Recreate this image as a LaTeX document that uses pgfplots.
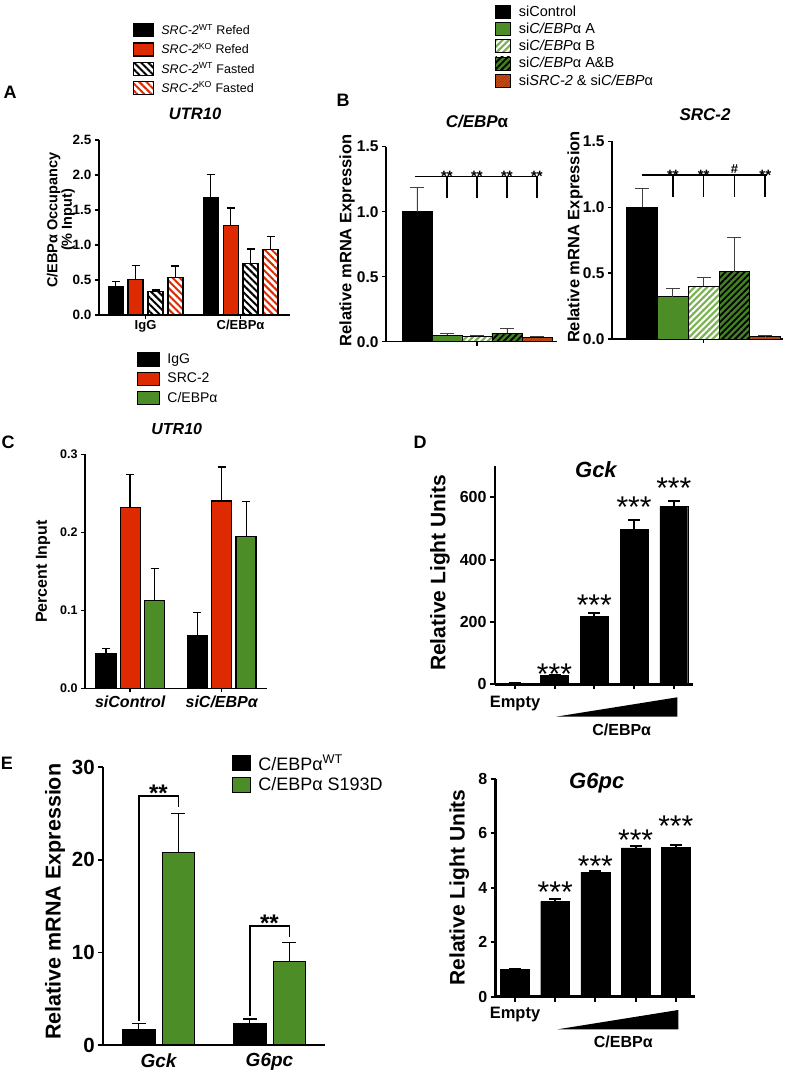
\documentclass[border=0pt]{standalone}
\usepackage{fontspec}
\setmainfont{Liberation Sans}
\usepackage{pgfplots}
\pgfplotsset{compat=1.18}
\usetikzlibrary{patterns.meta}
\definecolor{pred}{RGB}{221,42,0}
\definecolor{pgreen}{RGB}{77,141,40}
\definecolor{plight}{RGB}{125,178,85}
\definecolor{pdark}{RGB}{68,128,38}
\definecolor{porange}{RGB}{205,78,22}
\definecolor{porangedk}{RGB}{150,50,12}
\newcommand{\fs}[1]{\fontsize{#1}{#1}\selectfont}
\pgfplotsset{
  prism/.style={scale only axis, anchor=south west, axis lines*=left,
    axis line style={-, line width=1.5pt}, tick align=outside,
    major tick length=4pt, tick style={line width=1.5pt, black},
    /pgf/number format/assume math mode=true, clip=false, ymin=0,
    legend cell align=left, scaled y ticks=false,
    title style={anchor=center, yshift=0pt},
    ylabel style={anchor=center},
  },
  fixed1/.style={yticklabel style={/pgf/number format/.cd, fixed, fixed zerofill, precision=1}},
  boxleg/.style 2 args={legend image code/.code={\draw[##1] (0pt,-#2) rectangle (#1,#2);}},
  errb/.style n args={3}{error bars/.cd, y dir=plus, y explicit,
     error bar style={line width=#1, #3}, error mark options={rotate=90, line width=#1, #3, mark size=#2}},
}
\begin{document}
\begin{tikzpicture}
\path[use as bounding box] (0,0) rectangle (787pt,1074pt);

% ---------------- Panel A ----------------
\begin{axis}[prism, at={(99pt,759pt)}, width=191pt, height=175pt,
  xmin=-0.49, xmax=1.52, ymax=2.5, ytick={0,0.5,1,1.5,2,2.5}, fixed1,
  xtick={0,1}, xticklabels={IgG,C/EBPα},
  tick label style={font=\bfseries\fs{13.5}},
  xticklabel style={font=\bfseries\fs{13}, yshift=2.5pt},
  title={UTR10}, title style={at={(axis description cs:0.503,1.114)}, font=\bfseries\itshape\fs{16.5}},
  ylabel={C/EBPα Occupancy\\(\% Input)}, ylabel style={at={(axis description cs:-0.199,0.543)}, align=center, font=\bfseries\fs{14.5}},
  legend style={at={(0.178,1.669)}, anchor=north west, draw=none, fill=none, font=\fs{12.5}, row sep=5pt, inner sep=0pt, nodes={inner sep=1pt}, /tikz/every odd column/.append style={column sep=6pt}},
]
\addplot[ybar, bar width=0.158, bar shift=0, fill=black, draw=black, line width=1.2pt, boxleg={20pt}{6.5pt}, errb={1.5pt}{4pt}{black}]
  coordinates {(-0.315,0.40) +- (0,0.08) (0.685,1.68) +- (0,0.33)};
\addlegendentry{\textit{SRC-2}\textsuperscript{WT} Refed}
\addplot[ybar, bar width=0.158, bar shift=0, fill=pred, draw=black, line width=1.2pt, boxleg={20pt}{6.5pt}, errb={1.5pt}{4pt}{black}]
  coordinates {(-0.105,0.51) +- (0,0.20) (0.895,1.28) +- (0,0.25)};
\addlegendentry{\textit{SRC-2}\textsuperscript{KO} Refed}
\addplot[ybar, bar width=0.158, bar shift=0, fill=white, draw=black, line width=1.2pt, postaction={pattern={Lines[angle=-45,distance=5pt,line width=2pt]}, pattern color=black}, boxleg={20pt}{6.5pt}, errb={1.5pt}{4pt}{black}]
  coordinates {(0.105,0.33) +- (0,0.03) (1.105,0.74) +- (0,0.20)};
\addlegendentry{\textit{SRC-2}\textsuperscript{WT} Fasted}
\addplot[ybar, bar width=0.158, bar shift=0, fill=white, draw=black, line width=1.2pt, postaction={pattern={Lines[angle=-45,distance=5pt,line width=2pt]}, pattern color=pred}, boxleg={20pt}{6.5pt}, errb={1.5pt}{4pt}{black}]
  coordinates {(0.315,0.53) +- (0,0.17) (1.315,0.93) +- (0,0.19)};
\addlegendentry{\textit{SRC-2}\textsuperscript{KO} Fasted}
\end{axis}

% ---------------- Panel B left ----------------
\begin{axis}[prism, at={(386pt,732.3pt)}, width=171pt, height=195pt,
  xmin=-1.033, xmax=4.667, ymax=1.5, ytick={0,0.5,1,1.5}, fixed1,
  xtick={2}, xticklabels={},
  tick label style={font=\bfseries\fs{15.5}},
  title={C/EBP\textup{α}}, title style={at={(axis description cs:0.532,1.096)}, font=\bfseries\itshape\fs{17}},
  ylabel={Relative mRNA Expression}, ylabel style={at={(axis description cs:-0.228,0.519)}, font=\bfseries\fs{16.5}},
  legend style={at={(0.637,1.727)}, anchor=north west, draw=none, fill=none, font=\fs{14.5}, row sep=3.1pt, inner sep=0pt, nodes={inner sep=1pt}, /tikz/every odd column/.append style={column sep=7pt}},
]
\addplot[ybar, bar width=1, bar shift=0, fill=black, draw=black, line width=0.8pt, boxleg={15pt}{6.5pt}, errb={0.8pt}{7pt}{black!75}]
  coordinates {(0,1.0) +- (0,0.19)};
\addlegendentry{siControl}
\addplot[ybar, bar width=1, bar shift=0, fill=pgreen, draw=black, line width=0.8pt, boxleg={15pt}{6.5pt}, errb={0.8pt}{7pt}{black!75}]
  coordinates {(1,0.05) +- (0,0.015)};
\addlegendentry{si\textit{C/EBP}α A}
\addplot[ybar, bar width=1, bar shift=0, fill=plight, draw=black, line width=0.8pt, postaction={pattern={Lines[angle=45,distance=4.5pt,line width=2pt]}, pattern color=white}, boxleg={15pt}{6.5pt}, errb={0.8pt}{7pt}{black!75}]
  coordinates {(2,0.04) +- (0,0.005)};
\addlegendentry{si\textit{C/EBP}α B}
\addplot[ybar, bar width=1, bar shift=0, fill=pdark, draw=black, line width=0.8pt, postaction={pattern={Lines[angle=45,distance=4.5pt,line width=1.8pt]}, pattern color=black}, boxleg={15pt}{6.5pt}, errb={0.8pt}{7pt}{black!75}]
  coordinates {(3,0.065) +- (0,0.035)};
\addlegendentry{si\textit{C/EBP}α A\&B}
\addplot[ybar, bar width=1, bar shift=0, fill=porange, draw=black, line width=0.8pt, postaction={pattern={Lines[angle=45,distance=2pt,line width=0.6pt]}, pattern color=porangedk}, boxleg={15pt}{6.5pt}, errb={0.8pt}{7pt}{black!75}]
  coordinates {(4,0.035) +- (0,0.005)};
\addlegendentry{si\textit{SRC-2} \& si\textit{C/EBP}α}
\draw[line width=1.6pt] (axis cs:-0.07,1.27) -- (axis cs:4.03,1.27);
\draw[line width=1.6pt] (axis cs:1,1.27) -- (axis cs:1,1.105);
\draw[line width=1.6pt] (axis cs:2,1.27) -- (axis cs:2,1.105);
\draw[line width=1.6pt] (axis cs:3,1.27) -- (axis cs:3,1.105);
\draw[line width=1.6pt] (axis cs:4,1.27) -- (axis cs:4,1.105);
\node[anchor=base, inner sep=0pt, font=\bfseries\fs{15}] at (axis cs:1,1.232) {**};
\node[anchor=base, inner sep=0pt, font=\bfseries\fs{15}] at (axis cs:2,1.232) {**};
\node[anchor=base, inner sep=0pt, font=\bfseries\fs{15}] at (axis cs:3,1.232) {**};
\node[anchor=base, inner sep=0pt, font=\bfseries\fs{15}] at (axis cs:4,1.232) {**};
\end{axis}

% ---------------- Panel B right ----------------
\begin{axis}[prism, at={(612pt,735pt)}, width=171pt, height=197.5pt,
  xmin=-0.977, xmax=4.575, ymax=1.5, ytick={0,0.5,1,1.5}, fixed1,
  xtick={2}, xticklabels={},
  tick label style={font=\bfseries\fs{15.5}},
  title={SRC-2}, title style={at={(axis description cs:0.544,1.104)}, font=\bfseries\itshape\fs{17}},
  ylabel={Relative mRNA Expression}, ylabel style={at={(axis description cs:-0.216,0.516)}, font=\bfseries\fs{16.5}},
]
\addplot[ybar, bar width=1, bar shift=0, fill=black, draw=black, line width=0.8pt, errb={0.8pt}{7pt}{black!75}]
  coordinates {(0,1.0) +- (0,0.144)};
\addplot[ybar, bar width=1, bar shift=0, fill=pgreen, draw=black, line width=0.8pt, errb={0.8pt}{7pt}{black!75}]
  coordinates {(1,0.32) +- (0,0.065)};
\addplot[ybar, bar width=1, bar shift=0, fill=plight, draw=black, line width=0.8pt, postaction={pattern={Lines[angle=45,distance=4.5pt,line width=2pt]}, pattern color=white}, errb={0.8pt}{7pt}{black!75}]
  coordinates {(2,0.40) +- (0,0.07)};
\addplot[ybar, bar width=1, bar shift=0, fill=pdark, draw=black, line width=0.8pt, postaction={pattern={Lines[angle=45,distance=4.5pt,line width=1.8pt]}, pattern color=black}, errb={0.8pt}{7pt}{black!75}]
  coordinates {(3,0.51) +- (0,0.26)};
\addplot[ybar, bar width=1, bar shift=0, fill=porange, draw=black, line width=0.8pt, postaction={pattern={Lines[angle=45,distance=2pt,line width=0.6pt]}, pattern color=porangedk}, errb={0.8pt}{7pt}{black!75}]
  coordinates {(4,0.02) +- (0,0.005)};
\draw[line width=1.6pt] (axis cs:0,1.245) -- (axis cs:4.045,1.245);
\draw[line width=1.6pt] (axis cs:1,1.245) -- (axis cs:1,1.08);
\draw[line width=1.6pt] (axis cs:2,1.245) -- (axis cs:2,1.08);
\draw[line width=1.6pt] (axis cs:3,1.245) -- (axis cs:3,1.08);
\draw[line width=1.6pt] (axis cs:4,1.245) -- (axis cs:4,1.08);
\node[anchor=base, inner sep=0pt, font=\bfseries\fs{15}] at (axis cs:1,1.203) {**};
\node[anchor=base, inner sep=0pt, font=\bfseries\fs{15}] at (axis cs:2,1.203) {**};
\node[anchor=base, inner sep=0pt, font=\bfseries\fs{13}] at (axis cs:3,1.258) {\#};
\node[anchor=base, inner sep=0pt, font=\bfseries\fs{15}] at (axis cs:4,1.203) {**};
\end{axis}

% ---------------- Panel C ----------------
\begin{axis}[prism, at={(85pt,385.7pt)}, width=181.7pt, height=234pt,
  xmin=-0.494, xmax=1.492, ymax=0.3, ytick={0,0.1,0.2,0.3}, fixed1,
  xtick={0,1}, xticklabels={siControl,siC/EBPα},
  tick label style={font=\bfseries\fs{12.5}},
  xticklabel style={font=\bfseries\itshape\fs{16}},
  title={UTR10}, title style={at={(axis description cs:0.505,1.082)}, font=\bfseries\itshape\fs{16}},
  ylabel={Percent Input}, ylabel style={at={(axis description cs:-0.231,0.498)}, font=\bfseries\fs{16}},
  legend style={at={(0.286,1.437)}, anchor=north west, draw=none, fill=none, font=\fs{14}, row sep=5pt, inner sep=0pt, nodes={inner sep=1pt}, /tikz/every odd column/.append style={column sep=6pt}},
]
\addplot[ybar, bar width=0.219, bar shift=0, fill=black, draw=black, line width=1.3pt, boxleg={22pt}{6.5pt}, errb={1.5pt}{4pt}{black}]
  coordinates {(-0.266,0.044) +- (0,0.007) (0.734,0.068) +- (0,0.029)};
\addlegendentry{IgG}
\addplot[ybar, bar width=0.219, bar shift=0, fill=pred, draw=black, line width=1.3pt, boxleg={22pt}{6.5pt}, errb={1.5pt}{4pt}{black}]
  coordinates {(0,0.232) +- (0,0.042) (1,0.24) +- (0,0.044)};
\addlegendentry{SRC-2}
\addplot[ybar, bar width=0.219, bar shift=0, fill=pgreen, draw=black, line width=1.3pt, boxleg={22pt}{6.5pt}, errb={1pt}{4pt}{black}]
  coordinates {(0.266,0.113) +- (0,0.041) (1.266,0.195) +- (0,0.044)};
\addlegendentry{C/EBPα}
\end{axis}

% ---------------- Panel D (Gck) ----------------
\begin{axis}[prism, at={(495pt,389.7pt)}, width=198.3pt, height=218pt,
  axis line style={-, line width=2.5pt}, tick style={line width=2pt, black}, major tick length=5pt,
  xmin=-0.496, xmax=4.49, ymax=700, ytick={0,200,400,600},
  xtick={0,1,2,3,4}, xticklabels={},
  tick label style={font=\bfseries\fs{16}},
  title={Gck}, title style={at={(axis description cs:0.509,0.955)}, font=\bfseries\itshape\fs{22}},
  ylabel={Relative Light Units}, ylabel style={at={(axis description cs:-0.277,0.511)}, font=\bfseries\fs{21}},
]
\addplot[ybar, bar width=0.7, bar shift=0, fill=black, draw=black, errb={2pt}{6pt}{black}]
  coordinates {(0,3) +- (0,0) (1,28) +- (0,2) (2,218) +- (0,12) (3,497) +- (0,29) (4,572) +- (0,16)};
\node[anchor=base, inner sep=0pt, font=\fs{30}] at (axis cs:1,0) {***};
\node[anchor=base, inner sep=0pt, font=\fs{30}] at (axis cs:2,220.5) {***};
\node[anchor=base, inner sep=0pt, font=\fs{30}] at (axis cs:3,534) {***};
\node[anchor=base, inner sep=0pt, font=\fs{30}] at (axis cs:4,598) {***};
\end{axis}

% ---------------- Panel D (G6pc) ----------------
\begin{axis}[prism, at={(495.7pt,77.3pt)}, width=199.3pt, height=217.7pt,
  axis line style={-, line width=2.5pt}, tick style={line width=2pt, black}, major tick length=5pt,
  xmin=-0.48, xmax=4.478, ymax=8, ytick={0,2,4,6,8},
  xtick={0,1,2,3,4}, xticklabels={},
  tick label style={font=\bfseries\fs{16}},
  title={G6pc}, title style={at={(axis description cs:0.507,0.954)}, font=\bfseries\itshape\fs{22}},
  ylabel={Relative Light Units}, ylabel style={at={(axis description cs:-0.183,0.502)}, font=\bfseries\fs{21}},
]
\addplot[ybar, bar width=0.72, bar shift=0, fill=black, draw=black, errb={2pt}{6pt}{black}]
  coordinates {(0,1.0) +- (0,0) (1,3.5) +- (0,0.1) (2,4.58) +- (0,0.03) (3,5.47) +- (0,0.05) (4,5.5) +- (0,0.06)};
\node[anchor=base, inner sep=0pt, font=\fs{30}] at (axis cs:1,3.45) {***};
\node[anchor=base, inner sep=0pt, font=\fs{30}] at (axis cs:2,4.43) {***};
\node[anchor=base, inner sep=0pt, font=\fs{30}] at (axis cs:3,5.39) {***};
\node[anchor=base, inner sep=0pt, font=\fs{30}] at (axis cs:4,5.875) {***};
\end{axis}

% ---------------- Panel E ----------------
\begin{axis}[prism, at={(103.3pt,29pt)}, width=221.7pt, height=277.7pt,
  axis line style={-, line width=1.8pt}, tick style={line width=1.8pt, black}, major tick length=5pt,
  xmin=-0.497, xmax=1.5, ymax=30, ytick={0,10,20,30},
  xtick={0,1}, xticklabels={Gck,G6pc}, xtick style={draw=none},
  tick label style={font=\bfseries\fs{20.5}},
  xticklabel style={font=\bfseries\itshape\fs{19}},
  ylabel={Relative mRNA Expression}, ylabel style={at={(axis description cs:-0.218,0.516)}, font=\bfseries\fs{21.5}},
  legend style={at={(0.58,1.048)}, anchor=north west, draw=none, fill=none, font=\fs{18}, row sep=4pt, inner sep=0pt, nodes={inner sep=1pt}, /tikz/every odd column/.append style={column sep=6pt}},
]
\addplot[ybar, bar width=0.293, bar shift=0, fill=black, draw=black, line width=1.2pt, boxleg={18pt}{7.5pt}, errb={1.2pt}{7pt}{black}]
  coordinates {(-0.177,1.7) +- (0,0.6) (0.823,2.3) +- (0,0.5)};
\addlegendentry{C/EBPα\textsuperscript{WT}}
\addplot[ybar, bar width=0.293, bar shift=0, fill=pgreen, draw=black, line width=1.2pt, boxleg={18pt}{7.5pt}, errb={1.2pt}{7pt}{black}]
  coordinates {(0.18,20.8) +- (0,4.2) (1.18,9.0) +- (0,2.1)};
\addlegendentry{C/EBPα S193D}
\draw[line width=1.5pt] (axis cs:-0.177,2.6) -- (axis cs:-0.177,26.9) -- (axis cs:0.18,26.9) -- (axis cs:0.18,25.7);
\draw[line width=1.5pt] (axis cs:0.823,3.1) -- (axis cs:0.823,12.85) -- (axis cs:1.18,12.85) -- (axis cs:1.18,11.7);
\node[anchor=base, inner sep=0pt, font=\bfseries\fs{24}] at (axis cs:0,26.35) {**};
\node[anchor=base, inner sep=0pt, font=\bfseries\fs{24}] at (axis cs:1,12.3) {**};
\end{axis}

% ---------------- free text ----------------
\node[font=\bfseries\fs{18}] at (10pt,982pt) {A};
\node[font=\bfseries\fs{18}] at (343pt,974pt) {B};
\node[font=\bfseries\fs{18}] at (8pt,632pt) {C};
\node[font=\bfseries\fs{18}] at (420pt,632pt) {D};
\node[font=\bfseries\fs{18}] at (7pt,311pt) {E};
\node[font=\bfseries\fs{16.5}] at (515pt,370pt) {Empty};
\fill (556pt,357.3pt) -- (677.3pt,357.3pt) -- (677.3pt,376.7pt) -- cycle;
\node[font=\bfseries\fs{16}] at (621.7pt,344pt) {C/EBPα};
\node[font=\bfseries\fs{16.5}] at (515pt,59pt) {Empty};
\fill (557.7pt,44.7pt) -- (678.3pt,44.7pt) -- (678.3pt,64pt) -- cycle;
\node[font=\bfseries\fs{16}] at (623.3pt,32.3pt) {C/EBPα};
\end{tikzpicture}
\end{document}
